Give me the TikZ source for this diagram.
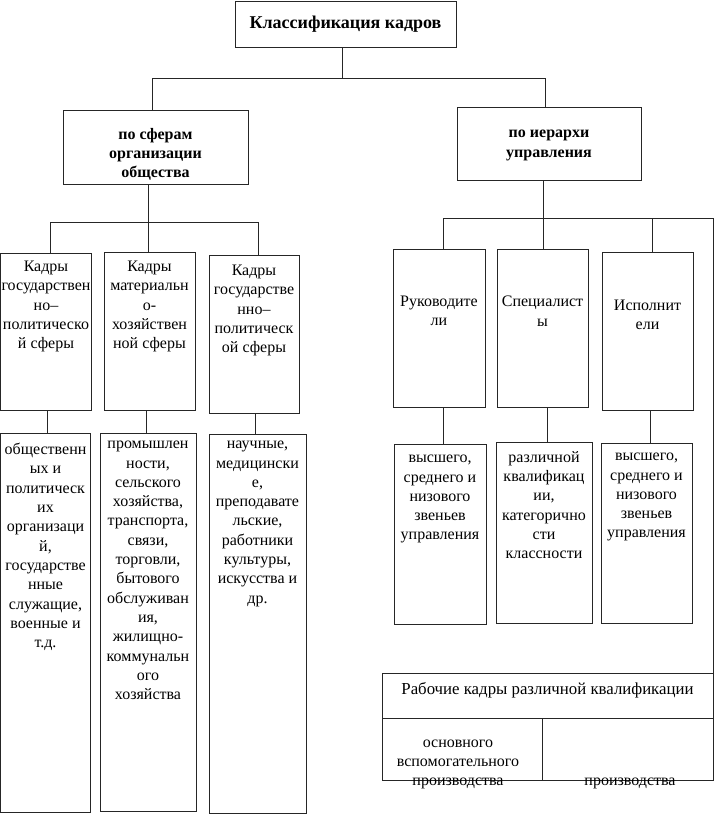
\documentclass[tikz,border=0pt]{standalone}
\usepackage{fontspec}
\setmainfont{Liberation Serif}
\begin{document}
\begin{tikzpicture}[x=1pt,y=-1pt,
  box/.style={draw=black!85, line width=0.8pt, inner sep=0pt, rectangle},
  txt/.style={align=center, inner sep=0pt, anchor=north, font=\fontsize{16}{19.3}\selectfont},
  btxt/.style={align=center, inner sep=0pt, anchor=north, font=\fontsize{16}{19.3}\selectfont\bfseries},
  ln/.style={draw=black!85, line width=0.8pt}]
\useasboundingbox (0,0) rectangle (715,815);
% boxes
\node[box, minimum width=221pt, minimum height=46pt, font=\fontsize{18}{21}\selectfont\bfseries] (title) at (345.5,24) {Классификация кадров};
\node[box, minimum width=185pt, minimum height=74pt] (sfer) at (155.5,147) {};
\node[box, minimum width=184pt, minimum height=73pt] (ier) at (549,143.5) {};
\node[box, minimum width=91pt, minimum height=157pt] (A1) at (46,331.5) {};
\node[box, minimum width=91pt, minimum height=158pt] (A2) at (149.5,331) {};
\node[box, minimum width=90pt, minimum height=158pt] (A3) at (254,334) {};
\node[box, minimum width=90pt, minimum height=379pt] (B1) at (45.5,622.5) {};
\node[box, minimum width=96pt, minimum height=378pt] (B2) at (148,622) {};
\node[box, minimum width=97pt, minimum height=379pt] (B3) at (257.5,623.5) {};
\node[box, minimum width=92pt, minimum height=158pt] (R1) at (439,328) {};
\node[box, minimum width=91pt, minimum height=158pt] (R2) at (542.5,328) {};
\node[box, minimum width=91pt, minimum height=158pt] (R3) at (647.5,331) {};
\node[box, minimum width=92pt, minimum height=180pt] (S1) at (440,534) {};
\node[box, minimum width=96pt, minimum height=181pt] (S2) at (544,532.5) {};
\node[box, minimum width=91pt, minimum height=180pt] (S3) at (646.5,533) {};
\node[box, minimum width=331pt, minimum height=45pt] (W) at (547.5,695.5) {};
\node[box, minimum width=160pt, minimum height=62pt] (WL) at (462,749) {};
\node[box, minimum width=171pt, minimum height=62pt] (WR) at (627.5,749) {};
% texts
\node[btxt] (tsfer) at (155.5,128) {по сферам\\организации\\общества};
\node[btxt] (tier) at (549,130) {по иерархи\\управления};
\node[txt] (tA1) at (46,261) {Кадры\\государствен\\но–\\политическо\\й сферы};
\node[txt] (tA2) at (149.5,261) {Кадры\\материальн\\о-\\хозяйствен\\ной сферы};
\node[txt] (tA3) at (254,265) {Кадры\\государстве\\нно–\\политическ\\ой сферы};
\node[txt] (tB1) at (45.5,443) {общественн\\ых и\\политическ\\их\\организаци\\й,\\государстве\\нные\\служащие,\\военные и\\т.д.};
\node[txt] (tB2) at (148,441) {промышлен\\ности,\\сельского\\хозяйства,\\транспорта,\\связи,\\торговли,\\бытового\\обслуживан\\ия,\\жилищно-\\коммунальн\\ого\\хозяйства};
\node[txt] (tB3) at (257.5,441) {научные,\\медицински\\е,\\преподавате\\льские,\\работники\\культуры,\\искусства и\\др.};
\node[txt] (tR1) at (439,296) {Руководите\\ли};
\node[txt] (tR2) at (542.5,296) {Специалист\\ы};
\node[txt] (tR3) at (647.5,300) {Исполнит\\ели};
\node[txt] (tS1) at (440,455) {высшего,\\среднего и\\низового\\звеньев\\управления};
\node[txt] (tS2) at (544,451) {различной\\квалификац\\ии,\\категорично\\сти\\классности};
\node[txt] (tS3) at (646.5,453) {высшего,\\среднего и\\низового\\звеньев\\управления};
\node[txt, font=\fontsize{16.8}{19.3}\selectfont] (tW) at (547.5,682) {Рабочие кадры различной квалификации};
\node[txt, font=\fontsize{16}{19}\selectfont] (tWL) at (458,740) {основного\\вспомогательного\\производства};
\node[txt] (tWR) at (630,778) {производства};
% connectors
\coordinate (j0) at (342,78);
\coordinate (jl) at (152,78);
\coordinate (jr) at (545,78);
\draw[ln] (title.south -| j0) -- (j0);
\draw[ln] (jl) -- (jr);
\draw[ln] (jl) -- (jl |- sfer.north);
\draw[ln] (jr) -- (jr |- ier.north);
\coordinate (k0) at (148,222);
\coordinate (kl) at (50,222);
\coordinate (kr) at (258,222);
\draw[ln] (sfer.south -| k0) -- (k0);
\draw[ln] (kl) -- (kr);
\draw[ln] (kl) -- (kl |- A1.north);
\draw[ln] (k0) -- (k0 |- A2.north);
\draw[ln] (kr) -- (kr |- A3.north);
\coordinate (x1) at (47,0);
\coordinate (x2) at (146,0);
\coordinate (x3) at (255,0);
\draw[ln] (A1.south -| x1) -- (B1.north -| x1);
\draw[ln] (A2.south -| x2) -- (B2.north -| x2);
\draw[ln] (A3.south -| x3) -- (B3.north -| x3);
\coordinate (m0) at (543,218);
\coordinate (ml) at (443,218);
\coordinate (mm) at (652,218);
\coordinate (mr) at (713,218);
\draw[ln] (ier.south -| m0) -- (m0);
\draw[ln] (ml) -- (mr);
\draw[ln] (ml) -- (ml |- R1.north);
\draw[ln] (m0) -- (m0 |- R2.north);
\draw[ln] (mm) -- (mm |- R3.north);
\draw[ln] (mr) -- (mr |- W.north);
\coordinate (y1) at (443,0);
\coordinate (y2) at (547,0);
\coordinate (y3) at (650,0);
\draw[ln] (R1.south -| y1) -- (S1.north -| y1);
\draw[ln] (R2.south -| y2) -- (S2.north -| y2);
\draw[ln] (R3.south -| y3) -- (S3.north -| y3);
\end{tikzpicture}
\end{document}
